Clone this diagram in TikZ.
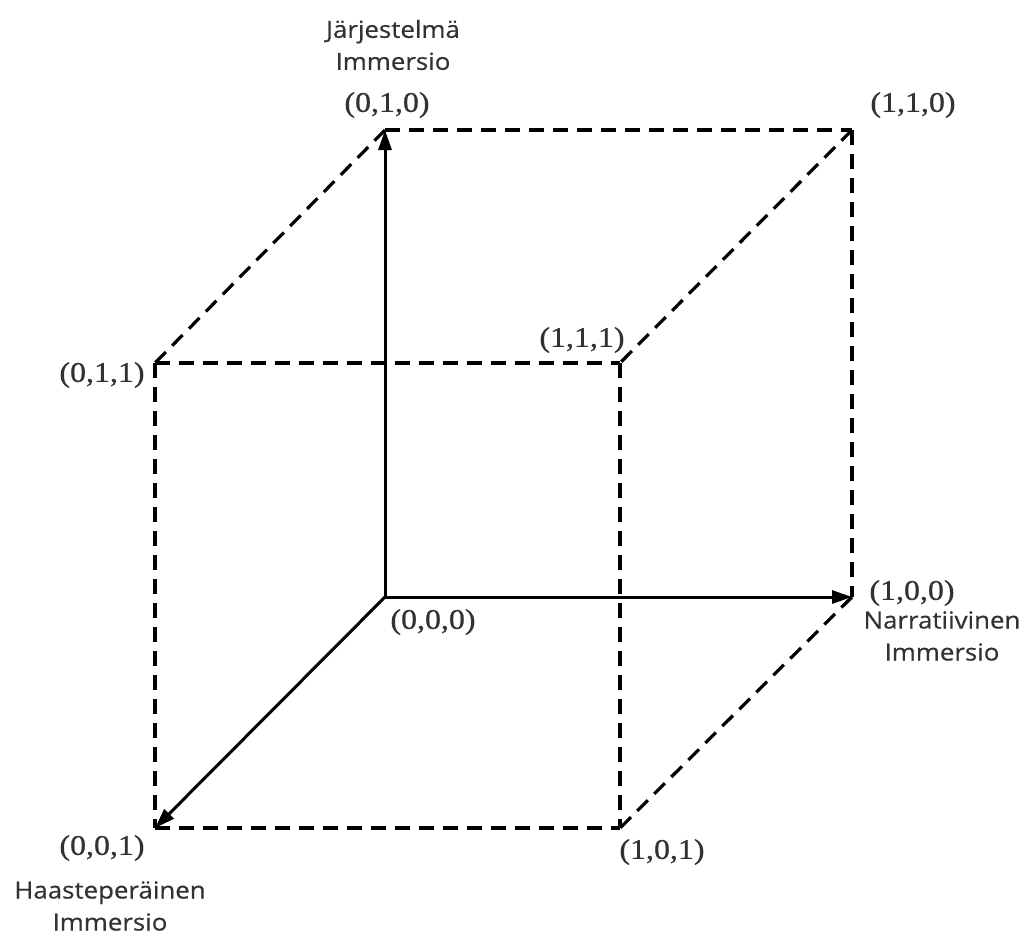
\documentclass[tikz,border=0pt]{standalone}
\usepackage{fontspec}
\newfontfamily\coordfont[FakeStretch=1.12, FakeBold=0.8]{Liberation Serif}
\newfontfamily\axisfont[FakeStretch=1.1, FakeBold=0.5]{Open Sans}
\usetikzlibrary{arrows.meta}
\definecolor{labelgray}{RGB}{50,50,50}

\begin{document}
\begin{tikzpicture}[x=1pt, y=-1pt,
		axis/.style={-{Triangle[length=20pt, width=13pt]}, line width=3pt},
		edge/.style={line width=3.2pt, dash pattern=on 15pt off 9pt},
		coord/.style={font=\coordfont\fontsize{28.5}{30}\selectfont, text=labelgray, inner sep=0pt},
		axislabel/.style={font=\axisfont\fontsize{23.5}{32}\selectfont, text=labelgray, align=center, inner sep=0pt}
		]
		\useasboundingbox (0,0) rectangle (1025,943);
		
		% Cube corners
		\coordinate (c000) at (385,597);
		\coordinate (c010) at (385,130);
		\coordinate (c100) at (852,597);
		\coordinate (c110) at (852,130);
		\coordinate (c001) at (155,828);
		\coordinate (c101) at (620,828);
		\coordinate (c011) at (155,363);
		\coordinate (c111) at (620,363);
		
		% Dashed edges
		\draw[edge] (c010) -- (c110);
		\draw[edge] (c110) -- (c100);
		\draw[edge] (c010) -- (c011);
		\draw[edge] (c110) -- (c111);
		\draw[edge] (c011) -- (c111);
		\draw[edge] (c011) -- (c001);
		\draw[edge] (c111) -- (c101);
		\draw[edge] (c001) -- (c101);
		\draw[edge] (c100) -- (c101);
		
		% Axes
		\draw[axis] (c000) -- (c010);
		\draw[axis] (c000) -- (c100);
		\draw[axis] (c000) -- (c001);
		
		% Corner labels
		\node[coord] (l010) at (387,105) {(0,1,0)};
		\node[coord] (l110) at (913,105) {(1,1,0)};
		\node[coord] (l111) at (582,340) {(1,1,1)};
		\node[coord] (l011) at (102,375) {(0,1,1)};
		\node[coord] (l000) at (433,622) {(0,0,0)};
		\node[coord] (l100) at (912,593) {(1,0,0)};
		\node[coord] (l001) at (102,848) {(0,0,1)};
		\node[coord] (l101) at (662,852) {(1,0,1)};
		
		% Axis names
		\node[axislabel] (ysys) at (393,45) {Järjestelmä\\Immersio};
		\node[axislabel] (xnar) at (942,636) {Narratiivinen\\Immersio};
		\node[axislabel] (zhaa) at (110,906) {Haasteperäinen\\Immersio};
		
	\end{tikzpicture}
\end{document}
